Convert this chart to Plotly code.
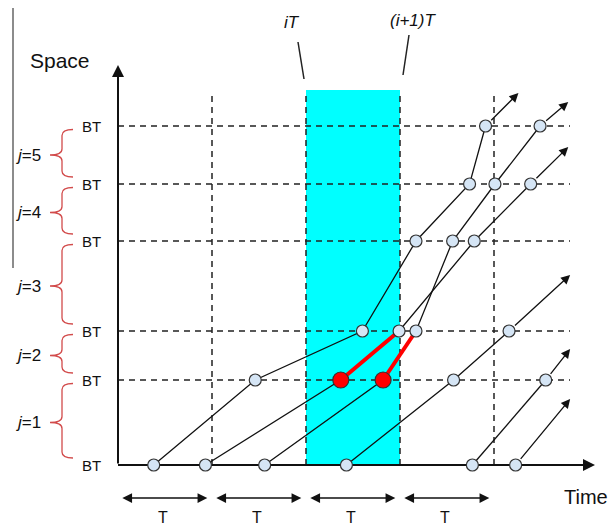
import plotly.graph_objects as go

# ---------------- data ----------------
BT_LEVELS = [0.00, 0.85, 1.34, 2.24, 2.81, 3.39]   # space positions of the BT boundaries
SEGMENT_NUMBERS = [1, 2, 3, 4, 5]                   # j = 1..5 (between consecutive BTs)
T_BOUNDS = [0, 1, 2, 3, 4]                          # period boundaries (units of T)
SHADED = [2, 3]                                     # iT .. (i+1)T
PERIOD_LABELS = ["T", "T", "T", "T"]

# time (in T) at which each trajectory crosses BT_LEVELS[0], [1], ...
TRAJ_A_T = [0.38, 1.46, 2.60, 3.17, 3.74, 3.91]
TRAJ_B_T = [0.93, 2.37, 2.99, 3.79, 4.39]
TRAJ_C_T = [1.56, 2.82, 3.17, 3.56, 4.01, 4.49]
TRAJ_D_T = [2.43, 3.57, 4.16]
TRAJ_E_T = [3.77, 4.55]
TRAJ_F_T = [4.23]
TRAJS = [TRAJ_A_T, TRAJ_B_T, TRAJ_C_T, TRAJ_D_T, TRAJ_E_T, TRAJ_F_T]
# where each trajectory leaves the drawing (arrow tip)
TRAJ_END_T = [4.26, 4.79, 4.79, 4.81, 4.81, 4.81]
TRAJ_END_S = [3.72, 3.18, 3.63, 1.90, 1.16, 0.66]
# highlighted (red) parts: trajectory index, crossing index from, to
HIGHLIGHT_TRAJ = [1, 2]
HIGHLIGHT_FROM = [1, 1]
HIGHLIGHT_TO = [2, 2]

# ---------------- layout helpers (pixel -> axis units) ----------------
W, H = 610, 528
OX, OY, TPX, SPX = 118, 465, 94, 100


def X(px):
    return (px - OX) / TPX


def Y(py):
    return (OY - py) / SPX


FONT = "Arial, Liberation Sans, sans-serif"
DASH = "6px,5px"
GRID = "#222222"
BRACE = "#d24b4b"

fig = go.Figure()
shapes = []
ann = []

# shaded period
shapes.append(dict(type="rect", xref="x", yref="y", x0=SHADED[0], x1=SHADED[1],
                   y0=BT_LEVELS[0], y1=Y(90), fillcolor="#00ffff",
                   line=dict(width=0), layer="below"))
# dashed BT lines
for s in BT_LEVELS[1:]:
    shapes.append(dict(type="line", xref="x", yref="y", x0=0, x1=X(570), y0=s, y1=s,
                       line=dict(color=GRID, width=1.5, dash=DASH), layer="below"))
# dashed period lines
for t in T_BOUNDS[1:]:
    shapes.append(dict(type="line", xref="x", yref="y", x0=t, x1=t, y0=0, y1=Y(92),
                       line=dict(color=GRID, width=1.5, dash=DASH), layer="below"))
# time axis line
shapes.append(dict(type="line", xref="x", yref="y", x0=0, x1=X(585), y0=0, y1=0,
                   line=dict(color="#111", width=2), layer="below"))
# left gray rule
shapes.append(dict(type="line", xref="x", yref="y", x0=X(13), x1=X(13), y0=Y(8), y1=Y(268),
                   line=dict(color="#666", width=1.5), layer="below"))
# leader lines for iT and (i+1)T
shapes.append(dict(type="line", xref="x", yref="y", x0=X(298), x1=X(304), y0=Y(42), y1=Y(79),
                   line=dict(color="#222", width=1.5)))
shapes.append(dict(type="line", xref="x", yref="y", x0=X(409), x1=X(403), y0=Y(35), y1=Y(75),
                   line=dict(color="#222", width=1.5)))

# curly braces for segments j
gap = 0.07
for k, j in enumerate(SEGMENT_NUMBERS):
    lo, hi = BT_LEVELS[k], BT_LEVELS[k + 1]
    top, bot, mid = hi - gap * 0.5, lo + gap, (lo + hi) / 2
    xr, xv, xt = X(73), X(62), X(50)
    r = 0.06
    path = (f"M {xr},{top} Q {xv},{top} {xv},{top - r} L {xv},{mid + r} "
            f"Q {xv},{mid} {xt},{mid} Q {xv},{mid} {xv},{mid - r} "
            f"L {xv},{bot + r} Q {xv},{bot} {xr},{bot}")
    shapes.append(dict(type="path", xref="x", yref="y", path=path,
                       line=dict(color=BRACE, width=1.3)))
    ann.append(dict(x=X(28), y=mid, text=f"<i>j</i>={j}", showarrow=False,
                    font=dict(size=17, color="#111", family=FONT),
                    xanchor="center", yanchor="middle"))

# trajectory lines
for times in TRAJS:
    fig.add_trace(go.Scatter(x=times, y=BT_LEVELS[:len(times)], mode="lines",
                             line=dict(color="#111", width=1.3), hoverinfo="skip",
                             showlegend=False))
# highlighted red segments
for ti, a, b in zip(HIGHLIGHT_TRAJ, HIGHLIGHT_FROM, HIGHLIGHT_TO):
    times = TRAJS[ti]
    fig.add_trace(go.Scatter(x=times[a:b + 1], y=BT_LEVELS[a:b + 1], mode="lines",
                             line=dict(color="#ff0000", width=4), hoverinfo="skip",
                             showlegend=False))
# markers
mx, my, rx, ry = [], [], [], []
for ti, times in enumerate(TRAJS):
    for ci, t in enumerate(times):
        if ti in HIGHLIGHT_TRAJ and ci == HIGHLIGHT_FROM[HIGHLIGHT_TRAJ.index(ti)]:
            rx.append(t)
            ry.append(BT_LEVELS[ci])
        else:
            mx.append(t)
            my.append(BT_LEVELS[ci])
fig.add_trace(go.Scatter(x=mx, y=my, mode="markers",
                         marker=dict(size=12, color="#d5e5f5",
                                     line=dict(color="#333", width=1.2)),
                         hoverinfo="skip", showlegend=False))
fig.add_trace(go.Scatter(x=rx, y=ry, mode="markers",
                         marker=dict(size=16, color="#ff0000",
                                     line=dict(color="#333", width=1.2)),
                         hoverinfo="skip", showlegend=False))

# trajectory arrows
for times, et, es in zip(TRAJS, TRAJ_END_T, TRAJ_END_S):
    ann.append(dict(x=et, y=es, ax=times[-1], ay=BT_LEVELS[len(times) - 1],
                    xref="x", yref="y", axref="x", ayref="y", text="",
                    showarrow=True, arrowhead=2, arrowsize=1.4, arrowwidth=1.3,
                    arrowcolor="#111", startstandoff=6))

# axis arrows
ann.append(dict(x=0, y=Y(65), ax=0, ay=0, xref="x", yref="y", axref="x", ayref="y",
                text="", showarrow=True, arrowhead=2, arrowsize=1.2, arrowwidth=2,
                arrowcolor="#111"))
ann.append(dict(x=X(595), y=0, ax=X(560), ay=0, xref="x", yref="y", axref="x", ayref="y",
                text="", showarrow=True, arrowhead=2, arrowsize=1.2, arrowwidth=2,
                arrowcolor="#111"))

# period arrows and T labels
for k, lab in enumerate(PERIOD_LABELS):
    t0, t1 = T_BOUNDS[k], T_BOUNDS[k] + 1
    ann.append(dict(x=t1 - 0.05, y=Y(498), ax=t0 + 0.03, ay=Y(498),
                    xref="x", yref="y", axref="x", ayref="y", text="",
                    showarrow=True, arrowhead=2, startarrowhead=2, arrowside="end+start",
                    arrowsize=1.3, startarrowsize=1.3, arrowwidth=1.5, arrowcolor="#111"))
    ann.append(dict(x=(t0 + t1) / 2 - 0.02, y=Y(517), text=lab, showarrow=False,
                    font=dict(size=16, color="#111", family=FONT),
                    xanchor="center", yanchor="middle"))

# BT labels
for s in BT_LEVELS:
    ann.append(dict(x=X(91), y=s, text="BT", showarrow=False,
                    font=dict(size=15, color="#111", family=FONT),
                    xanchor="center", yanchor="middle"))

# other texts
ann.append(dict(x=X(60), y=Y(60), text="Space", showarrow=False,
                font=dict(size=21, color="#111", family=FONT),
                xanchor="center", yanchor="middle"))
ann.append(dict(x=X(562), y=Y(497), text="Time", showarrow=False,
                font=dict(size=20, color="#111", family=FONT),
                xanchor="left", yanchor="middle"))
ann.append(dict(x=X(292), y=Y(22), text="<i>iT</i>", showarrow=False,
                font=dict(size=17, color="#111", family=FONT),
                xanchor="center", yanchor="middle"))
ann.append(dict(x=X(413), y=Y(20), text="<i>(i+1)T</i>", showarrow=False,
                font=dict(size=17, color="#111", family=FONT),
                xanchor="center", yanchor="middle"))

fig.update_layout(
    width=W, height=H, autosize=False,
    margin=dict(l=0, r=0, t=0, b=0, pad=0),
    paper_bgcolor="white", plot_bgcolor="white",
    xaxis=dict(range=[X(0), X(W)], visible=False, showgrid=False, zeroline=False,
               fixedrange=True),
    yaxis=dict(range=[Y(H), Y(0)], visible=False, showgrid=False, zeroline=False,
               fixedrange=True),
    shapes=shapes, annotations=ann, showlegend=False,
)

fig.write_html("out.html")
